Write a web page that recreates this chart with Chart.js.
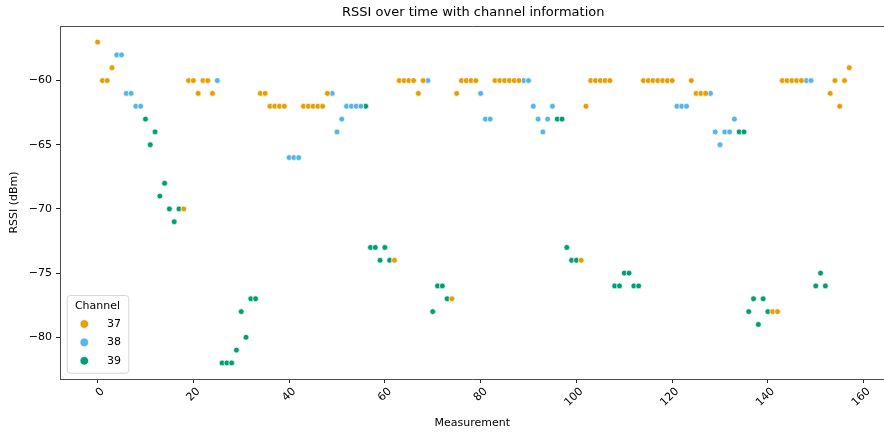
<!DOCTYPE html>
<html>
<head>
<meta charset="utf-8">
<script src="https://cdn.jsdelivr.net/npm/chart.js@4.4.1/dist/chart.umd.min.js"></script>
<style>
  html, body { margin: 0; padding: 0; background: #fff; overflow: hidden; }
  #wrap { position: relative; width: 888px; height: 435px; }
</style>
</head>
<body>
<div id="wrap"><canvas id="c"></canvas></div>
<script>
const FONT = "'DejaVu Sans', sans-serif";

// BLE advertising channels and their colours
const channels = [37, 38, 39];
const channelColors = ['#E69F00', '#56B4E9', '#009E73'];

// RSSI per measurement (dBm), index = measurement number
const rssi = [
  -57, -60, -60, -59, -58, -58, -61, -61, -62, -62,
  -63, -65, -64, -69, -68, -70, -71, -70, -70, -60,
  -60, -61, -60, -60, -61, -60, -82, -82, -82, -81,
  -78, -80, -77, -77, -61, -61, -62, -62, -62, -62,
  -66, -66, -66, -62, -62, -62, -62, -62, -61, -61,
  -64, -63, -62, -62, -62, -62, -62, -73, -73, -74,
  -73, -74, -74, -60, -60, -60, -60, -61, -60, -60,
  -78, -76, -76, -77, -77, -61, -60, -60, -60, -60,
  -61, -63, -63, -60, -60, -60, -60, -60, -60, -60,
  -60, -62, -63, -64, -63, -62, -63, -63, -73, -74,
  -74, -74, -62, -60, -60, -60, -60, -60, -76, -76,
  -75, -75, -76, -76, -60, -60, -60, -60, -60, -60,
  -60, -62, -62, -62, -60, -61, -61, -61, -61, -64,
  -65, -64, -64, -63, -64, -64, -78, -77, -79, -77,
  -78, -78, -78, -60, -60, -60, -60, -60, -60, -60,
  -76, -75, -76, -61, -60, -62, -60, -59
];

// Channel on which each measurement was taken
const channel = [
  37, 37, 37, 37, 38, 38, 38, 38, 38, 38,
  39, 39, 39, 39, 39, 39, 39, 39, 37, 37,
  37, 37, 37, 37, 37, 38, 39, 39, 39, 39,
  39, 39, 39, 39, 37, 37, 37, 37, 37, 37,
  38, 38, 38, 37, 37, 37, 37, 37, 37, 38,
  38, 38, 38, 38, 38, 38, 39, 39, 39, 39,
  39, 39, 37, 37, 37, 37, 37, 37, 37, 38,
  39, 39, 39, 39, 37, 37, 37, 37, 37, 37,
  38, 38, 38, 37, 37, 37, 37, 37, 37, 38,
  38, 38, 38, 38, 38, 38, 39, 39, 39, 39,
  39, 37, 37, 37, 37, 37, 37, 37, 39, 39,
  39, 39, 39, 39, 37, 37, 37, 37, 37, 37,
  37, 38, 38, 38, 37, 37, 37, 37, 38, 38,
  38, 38, 38, 38, 39, 39, 39, 39, 39, 39,
  39, 37, 37, 37, 37, 37, 37, 37, 38, 38,
  39, 39, 39, 37, 37, 37, 37, 37
];

const xTicks = [0, 20, 40, 60, 80, 100, 120, 140, 160];
const yTicks = [-80, -75, -70, -65, -60];

const minusSign = v => String(v).replace('-', '\u2212');

const datasets = channels.map((ch, i) => ({
  label: String(ch),
  data: rssi.map((v, k) => ({ x: k, y: v })).filter(p => channel[p.x] === ch),
  backgroundColor: channelColors[i],
  borderColor: '#ffffff',
  borderWidth: 0.7,
  pointRadius: 2.9,
  pointHoverRadius: 2.9
}));

// Top spine and chart title, centred over the plot area
const frameAndTitle = {
  id: 'frameAndTitle',
  afterDraw(chart) {
    const { ctx, chartArea: ca } = chart;
    ctx.save();
    ctx.strokeStyle = '#4d4d4d';
    ctx.lineWidth = 1;
    ctx.beginPath();
    ctx.moveTo(ca.left, Math.round(ca.top) + 0.5);
    ctx.lineTo(ca.right, Math.round(ca.top) + 0.5);
    ctx.stroke();
    ctx.fillStyle = '#000';
    ctx.font = '13px ' + FONT;
    ctx.textAlign = 'center';
    ctx.textBaseline = 'middle';
    ctx.fillText('RSSI over time with channel information', (ca.left + 886.5) / 2, 13);
    ctx.restore();
  }
};

// Legend box in the lower-left corner of the plot area
const channelLegend = {
  id: 'channelLegend',
  afterDraw(chart) {
    const { ctx, chartArea: ca } = chart;
    const w = 61.6, h = 77.7;
    const x0 = ca.left + 6.7, y0 = ca.bottom - 6.3 - h;
    ctx.save();
    ctx.beginPath();
    ctx.roundRect(x0 + 0.5, y0 + 0.5, w, h, 3);
    ctx.fillStyle = 'rgba(255,255,255,0.8)';
    ctx.fill();
    ctx.strokeStyle = '#d6d6d6';
    ctx.lineWidth = 1;
    ctx.stroke();
    ctx.fillStyle = '#000';
    ctx.font = '11px ' + FONT;
    ctx.textBaseline = 'middle';
    ctx.textAlign = 'center';
    ctx.fillText('Channel', x0 + w / 2, y0 + 10.7);
    chart.data.datasets.forEach((ds, i) => {
      const y = y0 + 29 + i * 18.4;
      ctx.beginPath();
      ctx.arc(x0 + 17.6, y, 4.3, 0, Math.PI * 2);
      ctx.fillStyle = ds.backgroundColor;
      ctx.fill();
      ctx.strokeStyle = '#fff';
      ctx.lineWidth = 0.7;
      ctx.stroke();
      ctx.fillStyle = '#000';
      ctx.textAlign = 'left';
      ctx.fillText(ds.label, x0 + 40.3, y);
    });
    ctx.restore();
  }
};

new Chart(document.getElementById('c'), {
  type: 'scatter',
  data: { datasets },
  options: {
    responsive: true,
    maintainAspectRatio: false,
    animation: false,
    events: [],
    layout: { padding: { top: 26, left: 0, right: 0, bottom: 0 } },
    plugins: {
      legend: { display: false },
      title: { display: false },
      tooltip: { enabled: false }
    },
    scales: {
      x: {
        type: 'linear',
        min: -7.85,
        max: 164.33,
        afterBuildTicks: s => { s.ticks = xTicks.map(v => ({ value: v })); },
        afterFit: s => { s.height = 56; },
        grid: { display: true, drawOnChartArea: false, drawTicks: true, tickLength: 4, tickColor: '#222', tickWidth: 1 },
        border: { display: true, color: '#4d4d4d', width: 1 },
        ticks: {
          minRotation: 45, maxRotation: 45, padding: 2, labelOffset: 5,
          color: '#000', font: { family: FONT, size: 11 },
          callback: v => minusSign(v)
        },
        title: { display: true, text: 'Measurement', color: '#000', font: { family: FONT, size: 11 }, padding: { top: 0, bottom: 5.4 } }
      },
      y: {
        type: 'linear',
        min: -83.25,
        max: -55.75,
        afterBuildTicks: s => { s.ticks = yTicks.map(v => ({ value: v })); },
        afterFit: s => { s.width = 60; },
        grid: { display: true, drawOnChartArea: false, drawTicks: true, tickLength: 4, tickColor: '#222', tickWidth: 1 },
        border: { display: true, color: '#4d4d4d', width: 1 },
        ticks: {
          padding: 4, color: '#000', font: { family: FONT, size: 11 },
          callback: v => minusSign(v)
        },
        title: { display: true, text: 'RSSI (dBm)', color: '#000', font: { family: FONT, size: 11 }, padding: { top: 7.4, bottom: 0 } }
      }
    }
  },
  plugins: [frameAndTitle, channelLegend]
});
</script>
</body>
</html>
